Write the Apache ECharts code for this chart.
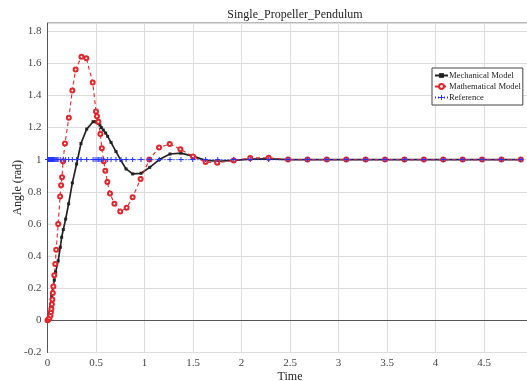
<!DOCTYPE html>
<html>
<head>
<meta charset="utf-8">
<script src="https://cdn.jsdelivr.net/npm/echarts@6/dist/echarts.min.js"></script>
<style>html,body{margin:0;padding:0;background:#fff}#c{width:527px;height:381px}</style>
</head>
<body>
<div id="c"></div>
<script>
var titleText = 'Single_Propeller_Pendulum';
var xName = 'Time';
var yName = 'Angle (rad)';
var seriesNames = ['Mechanical Model', 'Mathematical Model', 'Reference'];

var mechTime = [0, 0.015, 0.03, 0.043, 0.057, 0.07, 0.084, 0.11, 0.132, 0.146, 0.163, 0.187, 0.218, 0.256, 0.30, 0.345, 0.404, 0.47, 0.49, 0.51, 0.524, 0.54, 0.555, 0.575, 0.6, 0.62, 0.655, 0.706, 0.758, 0.81, 0.878, 0.964, 1.054, 1.153, 1.263, 1.376, 1.497, 1.63, 1.755, 1.92, 2.09, 2.28, 2.48, 2.68, 2.88, 3.08, 3.28, 3.48, 3.68, 3.88, 4.08, 4.28, 4.48, 4.68, 4.88];
var mechValue = [0, 0.02, 0.08, 0.155, 0.21, 0.25, 0.30, 0.37, 0.455, 0.517, 0.565, 0.63, 0.725, 0.855, 0.973, 1.10, 1.19, 1.236, 1.236, 1.232, 1.225, 1.215, 1.2, 1.184, 1.165, 1.145, 1.107, 1.05, 0.994, 0.942, 0.911, 0.915, 0.952, 1.0, 1.035, 1.04, 1.022, 0.995, 0.99, 0.995, 1.003, 1.005, 1.0, 1.0, 1.0, 1.0, 1.0, 1.0, 1.0, 1.0, 1.0, 1.0, 1.0, 1.0, 1.0];

var mathTime = [0, 0.01, 0.02, 0.03, 0.035, 0.04, 0.045, 0.05, 0.055, 0.06, 0.07, 0.08, 0.09, 0.11, 0.13, 0.14, 0.15, 0.16, 0.18, 0.22, 0.256, 0.29, 0.35, 0.40, 0.466, 0.50, 0.51, 0.524, 0.545, 0.56, 0.58, 0.596, 0.617, 0.644, 0.69, 0.75, 0.816, 0.878, 0.96, 1.05, 1.15, 1.26, 1.37, 1.50, 1.63, 1.75, 1.92, 2.09, 2.28, 2.48, 2.68, 2.88, 3.08, 3.28, 3.48, 3.68, 3.88, 4.08, 4.28, 4.48, 4.68, 4.88];
var mathValue = [0, 0.005, 0.015, 0.03, 0.05, 0.07, 0.1, 0.13, 0.17, 0.21, 0.28, 0.35, 0.44, 0.6, 0.77, 0.84, 0.89, 0.99, 1.10, 1.26, 1.43, 1.56, 1.64, 1.63, 1.48, 1.30, 1.27, 1.236, 1.16, 1.07, 0.99, 0.93, 0.86, 0.79, 0.725, 0.677, 0.70, 0.766, 0.88, 1.0, 1.076, 1.097, 1.064, 1.02, 0.985, 0.98, 0.995, 1.01, 1.012, 1.0, 1.0, 1.0, 1.0, 1.0, 1.0, 1.0, 1.0, 1.0, 1.0, 1.0, 1.0, 1.0];

var refTime = [0, 0.005, 0.01, 0.015, 0.02, 0.025, 0.03, 0.035, 0.04, 0.045, 0.05, 0.055, 0.06, 0.065, 0.07, 0.08, 0.09, 0.1, 0.11, 0.132, 0.163, 0.187, 0.218, 0.256, 0.30, 0.345, 0.404, 0.47, 0.49, 0.51, 0.524, 0.54, 0.555, 0.575, 0.62, 0.655, 0.706, 0.758, 0.81, 0.878, 0.964, 1.054, 1.153, 1.263, 1.376, 1.497, 1.63, 1.755, 1.92, 2.09, 2.28, 2.48, 2.68, 2.88, 3.08, 3.28, 3.48, 3.68, 3.88, 4.08, 4.28, 4.48, 4.68, 4.88];
var refValue = [1, 1, 1, 1, 1, 1, 1, 1, 1, 1, 1, 1, 1, 1, 1, 1, 1, 1, 1, 1, 1, 1, 1, 1, 1, 1, 1, 1, 1, 1, 1, 1, 1, 1, 1, 1, 1, 1, 1, 1, 1, 1, 1, 1, 1, 1, 1, 1, 1, 1, 1, 1, 1, 1, 1, 1, 1, 1, 1, 1, 1, 1, 1, 1];

var xTicks = [0, 0.5, 1, 1.5, 2, 2.5, 3, 3.5, 4, 4.5, 5];
var yTicks = [-0.2, 0, 0.2, 0.4, 0.6, 0.8, 1, 1.2, 1.4, 1.6, 1.8];

function pairs(t, v) { return t.map(function (x, i) { return [x, v[i]]; }); }

var font = 'Liberation Serif';
var chart = echarts.init(document.getElementById('c'), null, { renderer: 'canvas' });
chart.setOption({
  animation: false,
  backgroundColor: '#fff',
  title: {
    text: titleText, left: 290, textAlign: 'center', top: 4,
    textStyle: { fontFamily: font, fontSize: 12, fontWeight: 'normal', color: '#222' }
  },
  legend: {
    orient: 'vertical', left: 432, top: 68,
    backgroundColor: '#fff', borderColor: '#444', borderWidth: 1, borderRadius: 0,
    padding: [3, 2, 3, 2], itemWidth: 13, itemHeight: 6, itemGap: 2,
    textStyle: { fontFamily: font, fontSize: 8.6, lineHeight: 9, color: '#222', padding: [0, 0, 0, -4] },
    data: seriesNames
  },
  grid: { left: 47.5, right: -5.5, top: 23, bottom: 28.5, outerBoundsMode: 'none', containLabel: false,
    show: true, borderColor: '#777', borderWidth: 1, backgroundColor: '#fff' },
  xAxis: {
    type: 'value', min: xTicks[0], max: xTicks[xTicks.length - 1], interval: 0.5,
    name: xName, nameLocation: 'middle', nameGap: 18, nameMoveOverlap: false,
    nameTextStyle: { fontFamily: font, fontSize: 12, color: '#222' },
    axisLine: { lineStyle: { color: '#555' } },
    axisTick: { show: false },
    axisLabel: { fontFamily: font, fontSize: 11, color: '#444', margin: 5 },
    splitLine: { show: true, lineStyle: { color: '#dcdcdc', width: 1 } }
  },
  yAxis: {
    type: 'value', min: yTicks[0], max: 1.85, interval: 0.2,
    name: yName, nameLocation: 'middle', nameGap: 24, nameMoveOverlap: false,
    nameTextStyle: { fontFamily: font, fontSize: 12, color: '#222' },
    axisLine: { show: true, lineStyle: { color: '#555' } },
    axisTick: { show: false },
    axisLabel: { fontFamily: font, fontSize: 11, color: '#444', margin: 6, showMaxLabel: false,
      formatter: function (v) { return String(Math.round(v * 10) / 10); } },
    splitLine: { show: true, lineStyle: { color: '#dcdcdc', width: 1 } }
  },
  series: [
    {
      name: seriesNames[0], type: 'line', data: pairs(mechTime, mechValue),
      symbol: 'rect', symbolSize: 3, showAllSymbol: true,
      lineStyle: { color: '#222', width: 1.7 },
      itemStyle: { color: '#222', borderWidth: 0 }
    },
    {
      name: seriesNames[1], type: 'line', data: pairs(mathTime, mathValue),
      symbol: 'emptyCircle', symbolSize: 4, showAllSymbol: true,
      lineStyle: { color: '#e3242b', width: 1.1, type: [4, 3] },
      itemStyle: { color: '#e3242b', borderColor: '#e3242b', borderWidth: 1.2 }
    },
    {
      name: seriesNames[2], type: 'line', data: pairs(refTime, refValue),
      symbol: 'path://M4,0h2v4h4v2h-4v4h-2v-4h-4v-2h4z', symbolSize: 5, showAllSymbol: true,
      lineStyle: { color: '#2233ff', width: 1.2, type: [1, 2] },
      itemStyle: { color: '#2233ff', borderWidth: 0 }
    }
  ]
});
</script>
</body>
</html>
